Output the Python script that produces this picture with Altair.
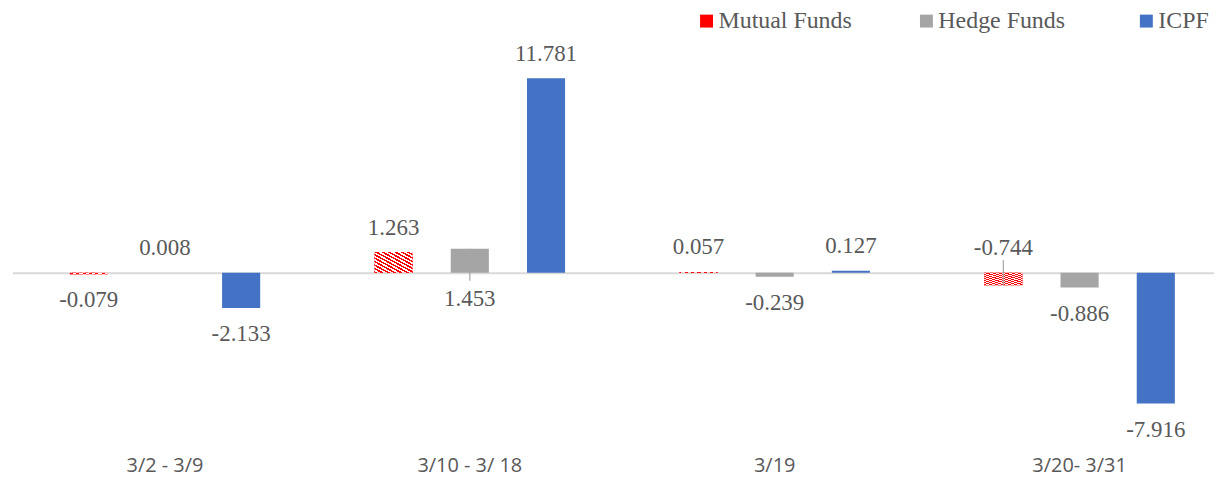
import altair as alt
import pandas as pd

# ---- data ----
categories = ["3/2 - 3/9", "3/10 - 3/ 18", "3/19", "3/20- 3/31"]
series = ["Mutual Funds", "Hedge Funds", "ICPF"]
mutual_funds = [-0.079, 1.263, 0.057, -0.744]
hedge_funds = [0.008, 1.453, -0.239, -0.886]
icpf = [-2.133, 11.781, 0.127, -7.916]
# labels that sit on the opposite side of the bar, joined by a leader line
label_flipped = [("Mutual Funds", "3/20- 3/31"), ("Hedge Funds", "3/10 - 3/ 18")]
colors = ["#ff0000", "#a5a5a5", "#4472c4"]

rows = []
for s, vals in zip(series, [mutual_funds, hedge_funds, icpf]):
    for c, v in zip(categories, vals):
        flipped = (s, c) in label_flipped
        above = (v >= 0) != flipped
        rows.append({"category": c, "series": s, "value": v,
                     "label": f"{v:.3f}", "above": above, "leader": flipped})
df = pd.DataFrame(rows)

# ---- styling ----
TEXT = "#595959"
SERIF = "Liberation Serif"
PLOT_H = 440
PX_PER_UNIT = 16.6
ZERO_Y = 265
STEP = 306.4
y_max = ZERO_Y / PX_PER_UNIT
y_min = -(PLOT_H - ZERO_Y) / PX_PER_UNIT

x_enc = alt.X("category:N", sort=categories,
              scale=alt.Scale(domain=categories, range=[0.5, 0.5 + 4 * STEP],
                              paddingInner=0, paddingOuter=0),
              axis=alt.Axis(title=None, labelAngle=0, ticks=False, domain=False,
                            grid=False, labelFont="Open Sans", labelFontSize=20,
                            labelColor=TEXT, labelBaseline="alphabetic",
                            labelPadding=25))
xo_enc = alt.XOffset("series:N", sort=series,
                     scale=alt.Scale(domain=series, range=[0, STEP],
                                     paddingInner=0.5, paddingOuter=0.75))
y_enc = alt.Y("value:Q",
              scale=alt.Scale(domain=[y_min, y_max], nice=False, zero=False),
              axis=alt.Axis(values=[0], grid=True, gridColor="#d9d9d9", gridWidth=2,
                            labels=False, ticks=False, domain=False, title=None))

base = alt.Chart(df)

bars = base.mark_bar().encode(
    x=x_enc, xOffset=xo_enc, y=y_enc, y2=alt.datum(0),
    color=alt.Color("series:N", sort=series,
                    scale=alt.Scale(domain=series, range=colors),
                    legend=alt.Legend(orient="none", legendX=686, legendY=0,
                                      direction="horizontal", title=None,
                                      symbolType="square", symbolSize=169,
                                      symbolStrokeWidth=0, labelFont=SERIF,
                                      labelFontSize=24, labelColor=TEXT,
                                      labelOffset=0, columnPadding=62,
                                      gridAlign="all", padding=0)),
)

# red / white diagonal hatching for Mutual Funds
stops = []
n_periods = 12
for i in range(n_periods):
    a = i / n_periods
    m = (i + 0.5) / n_periods
    b = (i + 1) / n_periods
    stops += [alt.GradientStop(offset=a, color="#ff0000"),
              alt.GradientStop(offset=m, color="#ff0000"),
              alt.GradientStop(offset=m, color="#ffffff"),
              alt.GradientStop(offset=b, color="#ffffff")]
hatch = alt.LinearGradient(gradient="linear", stops=stops, x1=0, y1=1, x2=1, y2=0)

hatched = base.transform_filter(alt.datum.series == "Mutual Funds").mark_bar(
    color=hatch).encode(x=x_enc, xOffset=xo_enc, y=y_enc, y2=alt.datum(0))

leader_up = base.transform_filter("datum.leader && datum.above").mark_rule(
    color="#a6a6a6", strokeWidth=1.2, y2Offset=-13).encode(
    x=x_enc, xOffset=xo_enc, y=y_enc, y2=alt.datum(0))
leader_down = base.transform_filter("datum.leader && !datum.above").mark_rule(
    color="#a6a6a6", strokeWidth=1.2, y2Offset=8).encode(
    x=x_enc, xOffset=xo_enc, y=y_enc, y2=alt.datum(0))

text_above = base.transform_filter("datum.above").transform_calculate(
    anchor="max(datum.value, 0)").mark_text(
    font=SERIF, fontSize=23, color=TEXT, baseline="middle", dy=-24.5).encode(
    x=x_enc, xOffset=xo_enc, y=alt.Y("anchor:Q"), text="label:N")
text_below = base.transform_filter("!datum.above").transform_calculate(
    anchor="min(datum.value, 0)").mark_text(
    font=SERIF, fontSize=23, color=TEXT, baseline="middle", dy=26.5).encode(
    x=x_enc, xOffset=xo_enc, y=alt.Y("anchor:Q"), text="label:N")

chart = alt.layer(bars, hatched, leader_up, leader_down, text_above, text_below).properties(
    width=1208, height=PLOT_H,
    autosize=alt.AutoSizeParams(type="none"),
    padding={"left": 4, "top": 0, "right": 0, "bottom": 26},
    background="white",
).configure_view(stroke=None)

chart.save("out.html", embed_options={
    "renderer": "svg", "actions": False,
    "defaultStyle": ".vega-embed{display:block;position:relative;line-height:0}"
                    " .vega-embed svg{display:block}",
})
